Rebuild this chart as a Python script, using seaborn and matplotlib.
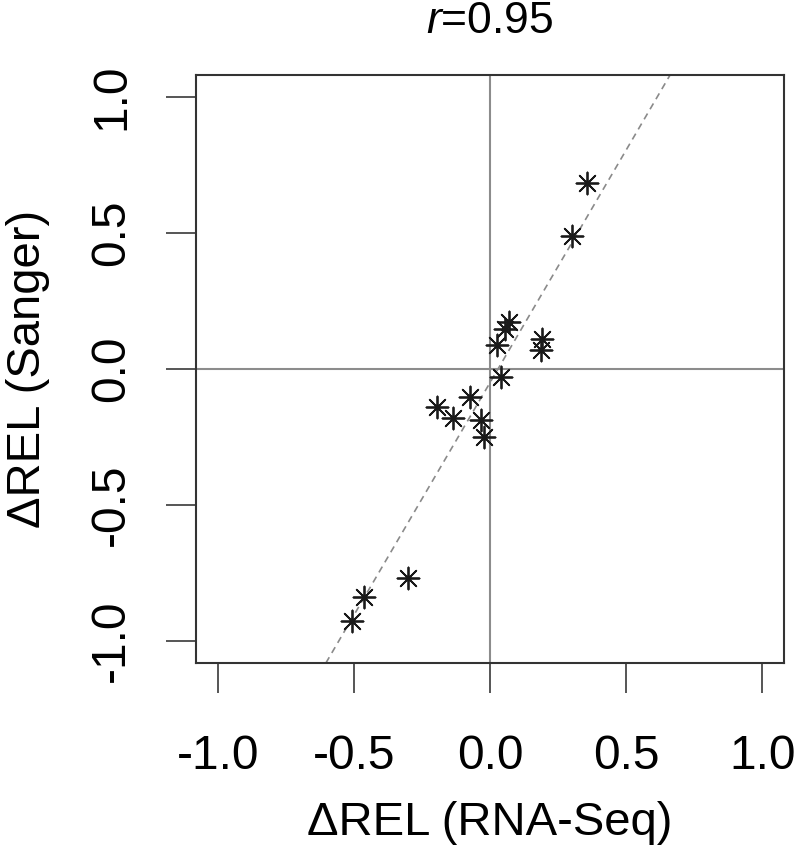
import numpy as np
import pandas as pd
import matplotlib
matplotlib.use("Agg")
import matplotlib.pyplot as plt
import seaborn as sns

# Data
rna_seq = [0.357, 0.301, 0.070, 0.055, 0.026, 0.191, 0.188, 0.040, -0.074,
           -0.195, -0.136, -0.033, -0.022, -0.301, -0.463, -0.507]
sanger = [0.684, 0.489, 0.173, 0.147, 0.088, 0.110, 0.070, -0.029, -0.103,
          -0.140, -0.180, -0.188, -0.250, -0.768, -0.838, -0.926]
tick_values = [-1.0, -0.5, 0.0, 0.5, 1.0]
tick_labels = ["-1.0", "-0.5", "0.0", "0.5", "1.0"]
title_r = "0.95"

df = pd.DataFrame({"rna": rna_seq, "sanger": sanger})

sns.set_theme(style="white")
plt.rcParams["font.family"] = ["Liberation Sans", "DejaVu Sans"]
plt.rcParams["text.color"] = "black"
plt.rcParams["axes.labelcolor"] = "black"
plt.rcParams["mathtext.fontset"] = "custom"
plt.rcParams["mathtext.it"] = "Liberation Sans:italic"
plt.rcParams["mathtext.rm"] = "Liberation Sans"

fig = plt.figure(figsize=(7.97, 8.51), dpi=100)
ax = fig.add_axes([196/797, (851-663)/851, 588/797, 588/851])

ax.set_xlim(-1.08, 1.08)
ax.set_ylim(-1.08, 1.08)

ax.axhline(0, color="#8c8c8c", lw=1.5, zorder=1)
ax.axvline(0, color="#8c8c8c", lw=1.5, zorder=1)

m, b = np.polyfit(df["rna"], df["sanger"], 1)
ax.axline((0, b), slope=m, color="#8a8a8a", lw=1.2, ls=(0, (4, 3)), zorder=2)

sns.scatterplot(data=df, x="rna", y="sanger", ax=ax, marker=(8, 2, 0),
                s=250, color="#1a1a1a", linewidth=1.3, edgecolor="#1a1a1a", zorder=3)

ax.set_xticks(tick_values)
ax.set_xticklabels(tick_labels)
ax.set_yticks(tick_values)
ax.set_yticklabels(tick_labels, rotation=90, va="center")

ax.tick_params(axis="both", which="both", length=21.6, width=1.4, color="#555555",
               labelsize=34.5, labelcolor="black", direction="out",
               bottom=True, left=True)
ax.tick_params(axis="x", pad=29.5)
ax.tick_params(axis="y", pad=23)

for s in ax.spines.values():
    s.set_color("#333333")
    s.set_linewidth(1.5)

ax.set_xlabel("ΔREL (RNA-Seq)", fontsize=34, labelpad=16, color="black")
ax.set_ylabel("ΔREL (Sanger)", fontsize=34, labelpad=28, color="black")
ax.set_title("$\\mathit{r}$=" + title_r, fontsize=32, pad=30, color="black")
ax.grid(False)

fig.savefig("out.png", dpi=100)
